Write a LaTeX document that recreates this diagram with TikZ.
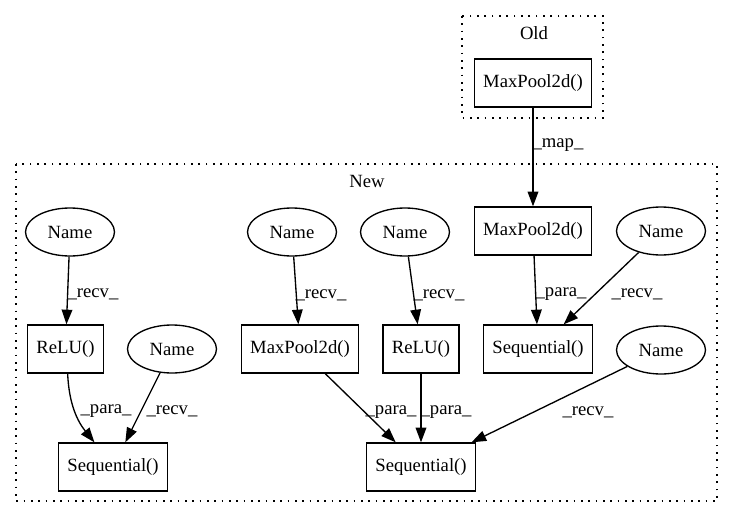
\documentclass[tikz,border=0pt]{standalone}
\usepackage{fontspec}
\setmainfont{Liberation Serif}
\usetikzlibrary{shapes.geometric,arrows.meta}

\tikzset{
  opbox/.style={draw, rectangle, line width=1pt, minimum height=36pt, inner xsep=6.75pt, font=\fontsize{14}{16}\selectfont},
  namenode/.style={draw, ellipse, line width=1pt, minimum width=66.75pt, minimum height=36pt, inner sep=0pt, font=\fontsize{14}{16}\selectfont},
  lbl/.style={inner sep=0pt, font=\fontsize{14}{16}\selectfont},
  cluster/.style={line width=1pt, dash pattern=on 1.2pt off 4.3pt},
  edge/.style={line width=1pt, -{Triangle[length=11pt,width=8pt]}}
}

\begin{document}
\begin{tikzpicture}[x=0.75pt,y=0.75pt,yscale=-1,xscale=1]
\useasboundingbox (0,0) rectangle (732,518);

% Clusters
\draw [cluster] (462,16) rectangle (603,118);
\draw [cluster] (16,164) rectangle (717,501);
\node [lbl] (oldtitle) at (534,33) {Old};
\node [lbl] (newtitle) at (367,181) {New};

% Old
\node [opbox] (oldpool) at (533,83) {MaxPool2d()};

% New, first row
\node [namenode] (name1) at (70,232) {Name};
\node [namenode] (name2) at (292,232) {Name};
\node [namenode] (name3) at (405,232) {Name};
\node [opbox] (newpool) at (533,231) {MaxPool2d()};
\node [namenode] (name4) at (661,231) {Name};

% New, second row
\node [opbox] (relu1) at (65.5,349) {ReLU()};
\node [namenode] (name5) at (172,349) {Name};
\node [opbox] (midpool) at (300,349) {MaxPool2d()};
\node [opbox] (relu2) at (421,349) {ReLU()};
\node [opbox] (seqtop) at (538,349) {Sequential()};
\node [namenode] (name6) at (661,350) {Name};

% New, third row
\node [opbox] (seqleft) at (113,467) {Sequential()};
\node [opbox] (seqbot) at (421,467) {Sequential()};

% Edges
\draw [edge] (oldpool) -- (newpool);
\draw [edge] (name1) -- (relu1);
\draw [edge] (relu1.-85) .. controls (69,405) and (78,422) .. (seqleft.127);
\draw [edge] (name5) -- (seqleft);
\draw [edge] (name2) -- (midpool);
\draw [edge] (name3) -- (relu2);
\draw [edge] (newpool) -- (seqtop);
\draw [edge] (name4) -- (seqtop);
\draw [edge] (midpool) -- (seqbot);
\draw [edge] (relu2) -- (seqbot);
\draw [edge] (name6) -- (seqbot);

% Edge labels
\node [lbl] (lmap) at (558,145) {\_map\_};
\node [lbl] (lrecv1) at (93,294) {\_recv\_};
\node [lbl] (lrecv2) at (321,295) {\_recv\_};
\node [lbl] (lrecv3) at (439,295) {\_recv\_};
\node [lbl] (lpara1) at (561,294) {\_para\_};
\node [lbl] (lrecv4) at (637,294) {\_recv\_};
\node [lbl] (lpara2) at (106,411) {\_para\_};
\node [lbl] (lrecv5) at (172,411) {\_recv\_};
\node [lbl] (lpara3) at (391,412) {\_para\_};
\node [lbl] (lpara4) at (446,412) {\_para\_};
\node [lbl] (lrecv6) at (588,412) {\_recv\_};

\end{tikzpicture}
\end{document}
